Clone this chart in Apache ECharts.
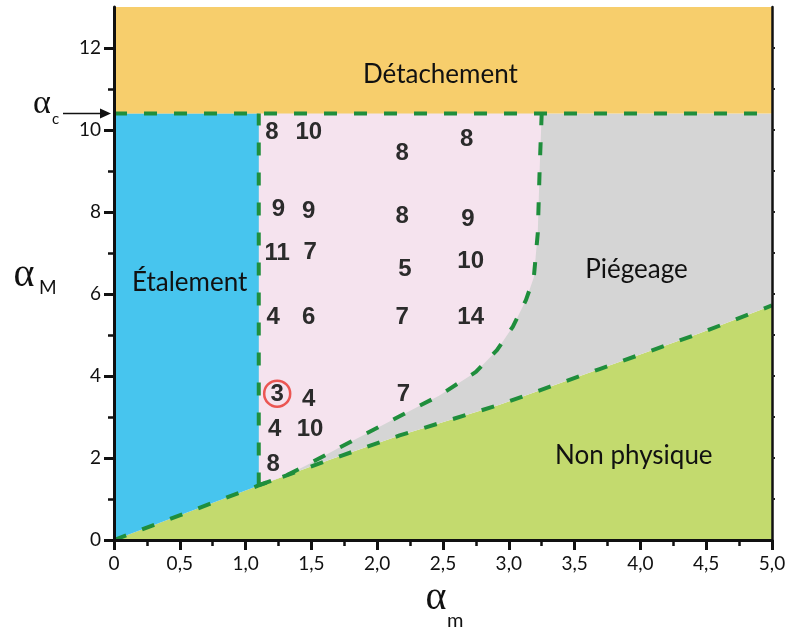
<!DOCTYPE html>
<html>
<head>
<meta charset="utf-8">
<script src="https://cdn.jsdelivr.net/npm/echarts@6/dist/echarts.min.js"></script>
<style>
html,body{margin:0;padding:0;background:#fff;}
#chart{width:802px;height:630px;}
</style>
</head>
<body>
<div id="chart"></div>
<script>
// ---- data ----
const alphaC = 10.4;
const xMax = 5.0;
const yMax = 13;
const xTickValues = [0, 0.5, 1, 1.5, 2, 2.5, 3, 3.5, 4, 4.5, 5];
const xTickLabels = ['0', '0,5', '1,0', '1,5', '2,0', '2,5', '3,0', '3,5', '4,0', '4,5', '5,0'];
const yTickValues = [0, 2, 4, 6, 8, 10, 12];
const yTickLabels = ['0', '2', '4', '6', '8', '10', '12'];
const yMinorTicks = [1, 3, 5, 7, 9, 11];
const spreadLimit = 1.1;

// lower "non physique" boundary
const lowerLine = [[0, 0], [1.1, 1.33], [1.66, 1.98], [2.17, 2.55], [2.93, 3.3], [3.69, 4.17], [4.45, 5.04], [5.0, 5.72]];
// boundary of the pink (counted) region towards "Piégeage"
const pinkCurve = [[1.1, 1.34], [1.3, 1.56], [1.46, 1.82], [1.71, 2.25], [1.92, 2.6], [2.17, 3.02], [2.47, 3.52],
  [2.75, 4.1], [2.91, 4.63], [3.03, 5.2], [3.13, 5.85], [3.19, 6.4], [3.22, 7.48], [3.235, 9.1], [3.25, 10.4]];

// counts in the pink region
const countX = [1.2, 1.48, 2.19, 2.68, 1.25, 1.48, 2.19, 2.69, 1.24, 1.49, 2.21, 2.71, 1.21, 1.48, 2.19, 2.71, 1.24, 1.48, 2.2, 1.22, 1.49, 1.21];
const countY = [9.93, 9.93, 9.44, 9.78, 8.07, 8.02, 7.9, 7.83, 7.0, 7.02, 6.61, 6.8, 5.44, 5.44, 5.44, 5.44, 3.56, 3.44, 3.56, 2.71, 2.71, 1.85];
const countText = ['8', '10', '8', '8', '9', '9', '8', '9', '11', '7', '5', '10', '4', '6', '7', '14', '3', '4', '7', '4', '10', '8'];
const circledPoint = [1.24, 3.57];

const regionNames = ['Détachement', 'Étalement', 'Piégeage', 'Non physique'];
const regionX = [2.48, 0.575, 3.97, 3.95];
const regionY = [11.34, 6.27, 6.59, 2.07];

// ---- style ----
const FONT = 'Lato, "Noto Sans", sans-serif';
const GREEK = '"Liberation Serif", "DejaVu Serif", serif';
const C_ORANGE = '#F7CE6C';
const C_BLUE = '#47C5EE';
const C_PINK = '#F5E3EE';
const C_GREY = '#D5D5D5';
const C_GREEN = '#C3DA6E';
const C_DASH = '#1F8E3C';

// polygons built from the data arrays
const polyDetach = [[0, alphaC], [xMax, alphaC], [xMax, yMax], [0, yMax]];
const polyGreen = lowerLine.concat([[xMax, 0], [0, 0]]);
const polyGrey = lowerLine.concat([[xMax, alphaC], [0, alphaC]]);
const polyPink = [[spreadLimit, alphaC]].concat(pinkCurve);
const polyBlue = lowerLine.filter(p => p[0] <= spreadLimit).concat([[spreadLimit, alphaC], [0, alphaC]]);

function polySeries(points, color, z) {
  return {
    type: 'custom', coordinateSystem: 'cartesian2d', silent: true, z: z,
    data: points,
    renderItem: function (params, api) {
      if (params.dataIndex !== 0) return null;
      return {
        type: 'polygon',
        shape: { points: points.map(p => api.coord(p)) },
        style: { fill: color, stroke: null }
      };
    }
  };
}
function dashSeries(points) {
  return {
    type: 'line', data: points, showSymbol: false, silent: true, z: 5,
    lineStyle: { color: C_DASH, width: 4, type: [13, 17] }
  };
}
function textSeries(data, fontFamily, fontSize, fontWeight, color, z) {
  return {
    type: 'custom', coordinateSystem: 'cartesian2d', silent: true, z: z,
    data: data,
    renderItem: function (params, api) {
      const p = api.coord([api.value(0), api.value(1)]);
      return {
        type: 'text', x: p[0], y: p[1],
        style: {
          text: data[params.dataIndex][2], fill: color,
          font: fontWeight + ' ' + fontSize + 'px ' + fontFamily,
          align: 'center', verticalAlign: 'middle'
        }
      };
    }
  };
}

const chart = echarts.init(document.getElementById('chart'), null, { renderer: 'canvas' });

const option = {
  animation: false,
  backgroundColor: '#fff',
  grid: { left: 114, right: 30, top: 7, bottom: 90, containLabel: false, outerBoundsMode: 'none' },
  xAxis: [{
    type: 'value', min: 0, max: xMax, interval: 0.5, position: 'bottom', z: 10,
    axisLine: { lineStyle: { color: '#111', width: 3 } },
    axisTick: { length: 10, lineStyle: { color: '#111', width: 3 } },
    minorTick: { show: true, splitNumber: 2, length: 6, lineStyle: { color: '#111', width: 2.5 } },
    splitLine: { show: false },
    axisLabel: {
      margin: 14, fontSize: 19, color: '#111', fontFamily: FONT,
      formatter: v => { const i = xTickValues.findIndex(t => Math.abs(t - v) < 1e-6); return i >= 0 ? xTickLabels[i] : ''; }
    }
  }, {
    type: 'value', min: 0, max: xMax, position: 'top', z: 10,
    axisLine: { show: true, lineStyle: { color: '#111', width: 2.5 } },
    axisTick: { show: false }, axisLabel: { show: false }, splitLine: { show: false }
  }],
  yAxis: [{
    type: 'value', min: 0, max: yMax, position: 'left', z: 10,
    axisLine: { show: true, lineStyle: { color: '#111', width: 3 } },
    axisTick: { show: true, length: 10, customValues: yTickValues, lineStyle: { color: '#111', width: 3 } },
    splitLine: { show: false },
    axisLabel: {
      customValues: yTickValues, margin: 13, fontSize: 19, color: '#111', fontFamily: FONT,
      formatter: v => { const i = yTickValues.indexOf(v); return i >= 0 ? yTickLabels[i] : ''; }
    }
  }, {
    type: 'value', min: 0, max: yMax, position: 'left', z: 10,
    axisLine: { show: false },
    axisTick: { show: true, length: 6, customValues: yMinorTicks, lineStyle: { color: '#111', width: 2.5 } },
    axisLabel: { show: false }, splitLine: { show: false }
  }, {
    type: 'value', min: 0, max: yMax, position: 'right', z: 10,
    axisLine: { show: true, lineStyle: { color: '#111', width: 2.5 } },
    axisTick: { show: true, length: 3, customValues: [1, 2, 3, 4, 5, 6, 7, 8, 9, 10, 11, 12], lineStyle: { color: '#222', width: 2 } },
    axisLabel: { show: false }, splitLine: { show: false }
  }],
  series: [
    polySeries(polyGreen, C_GREEN, 1),
    polySeries(polyGrey, C_GREY, 1),
    polySeries(polyPink, C_PINK, 2),
    polySeries(polyBlue, C_BLUE, 2),
    polySeries(polyDetach, C_ORANGE, 2),
    dashSeries(lowerLine),
    dashSeries(pinkCurve),
    dashSeries([[spreadLimit, lowerLine[1][1]], [spreadLimit, alphaC]]),
    dashSeries([[0, alphaC], [xMax, alphaC]]),
    textSeries(countX.map((x, i) => [x, countY[i], countText[i]]), '"Liberation Sans", Arial, sans-serif', 24, 'bold', '#2b2b2b', 6),
    {
      type: 'scatter', z: 7, silent: true, symbol: 'circle', symbolSize: 26,
      data: [circledPoint],
      itemStyle: { color: 'rgba(0,0,0,0)', borderColor: '#E8322B', borderWidth: 2.5 }
    },
    textSeries(regionX.map((x, i) => [x, regionY[i], regionNames[i]]), FONT, 26, 'normal', '#111', 6)
  ]
};
chart.setOption(option);

// axis titles and the alpha_c annotation arrow (arrow placed through the axis scale)
const pc = chart.convertToPixel({ gridIndex: 0 }, [0, alphaC]);
chart.setOption({
  graphic: [
    { type: 'line', shape: { x1: pc[0] - 51, y1: pc[1], x2: pc[0] - 10, y2: pc[1] }, style: { stroke: '#111', lineWidth: 1.5 } },
    { type: 'polygon', shape: { points: [[pc[0] - 3, pc[1]], [pc[0] - 14, pc[1] - 5], [pc[0] - 14, pc[1] + 5]] }, style: { fill: '#111' } },
    { type: 'text', x: pc[0] - 72, y: pc[1] - 10, style: { text: 'α', font: '34px ' + GREEK, fill: '#111', align: 'center', verticalAlign: 'middle' } },
    { type: 'text', x: pc[0] - 62, y: pc[1] + 6, style: { text: 'c', font: '15px ' + FONT, fill: '#111', align: 'left', verticalAlign: 'middle' } },
    { type: 'text', x: 24, y: 275, style: { text: 'α', font: '40px ' + GREEK, fill: '#111', align: 'center', verticalAlign: 'middle' } },
    { type: 'text', x: 39, y: 288, style: { text: 'M', font: '19px ' + FONT, fill: '#111', align: 'left', verticalAlign: 'middle' } },
    { type: 'text', x: 436, y: 598, style: { text: 'α', font: '40px ' + GREEK, fill: '#111', align: 'center', verticalAlign: 'middle' } },
    { type: 'text', x: 447, y: 621, style: { text: 'm', font: '20px ' + FONT, fill: '#111', align: 'left', verticalAlign: 'middle' } }
  ]
});
</script>
</body>
</html>
